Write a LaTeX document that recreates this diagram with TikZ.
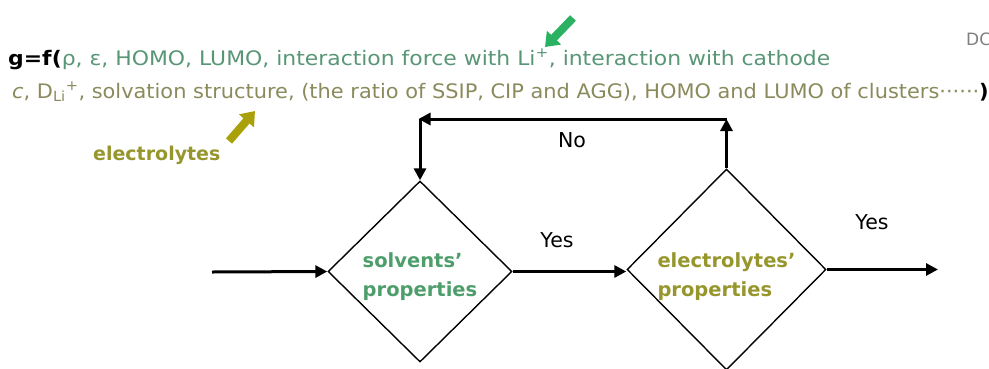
\documentclass[tikz,border=0pt]{standalone}
\usepackage{fontspec}
\setmainfont{DejaVu Sans}
\newfontfamily\wideA[FakeStretch=1.095]{DejaVu Sans}
\newfontfamily\wideB[FakeStretch=1.045]{DejaVu Sans}
\usetikzlibrary{shapes.geometric,arrows.meta}
\definecolor{solvgreen}{RGB}{88,150,118}
\definecolor{elecgray}{RGB}{138,138,92}
\definecolor{elecolive}{RGB}{150,150,45}
\definecolor{solvdia}{RGB}{78,158,108}
\definecolor{arrgreen}{RGB}{42,178,98}
\definecolor{arrolive}{RGB}{170,160,10}
\tikzset{
  dia/.style={shape=diamond, draw, line width=1.4pt, inner sep=0pt},
  diatext/.style={align=left, inner sep=0pt, font=\bfseries\fontsize{19.5}{29}\selectfont},
  flow/.style={line width=3pt, -{Triangle[length=12pt,width=12pt]}},
  lbl/.style={font=\fontsize{20.5}{24}\selectfont, inner sep=0pt},
  txt/.style={inner sep=0pt, anchor=base west},
  block/.style={line width=8pt, -{Triangle[length=13pt,width=19pt]}},
}
\begin{document}
\begin{tikzpicture}[x=1pt,y=-1pt]
\useasboundingbox (0,0) rectangle (989,368);
% formula text
\node[txt, font=\wideA\fontsize{20}{24}\selectfont] (l1) at (8,65) {\textbf{g=f(}\textcolor{solvgreen}{ρ, ε, HOMO, LUMO, interaction force with Li\textsuperscript{+}, interaction with cathode}};
\node[txt, font=\wideB\fontsize{20}{24}\selectfont] (l2) at (12,98) {\textcolor{elecgray}{\textit{c}, D\textsubscript{Li}\textsuperscript{+}, solvation structure, (the ratio of SSIP, CIP and AGG), HOMO and LUMO of clusters······}\textbf{)}};
\node[txt, font=\fontsize{17}{20}\selectfont, text=gray] (dc) at (966,45) {DC};
\node[txt, font=\bfseries\fontsize{19}{23}\selectfont, text=elecolive] (el) at (93,160) {electrolytes};
% pointer arrows
\coordinate (ga1) at (573,18);
\coordinate (ga2) at (545,47);
\draw[block, arrgreen] (ga1) -- (ga2);
\coordinate (oa1) at (229,141);
\coordinate (oa2) at (255,111);
\draw[block, arrolive] (oa1) -- (oa2);
% diamonds
\node[dia, minimum width=184pt, minimum height=181pt] (d1) at (420,271.5) {};
\node[diatext, text=solvdia] (d1t) at ([yshift=-5pt]d1.center) {solvents'\\properties};
\node[dia, minimum width=199pt, minimum height=201pt] (d2) at (726.5,269.5) {};
\node[diatext, text=elecolive] (d2t) at ([yshift=-7pt]d2.center) {electrolytes'\\properties};
% connectors
\coordinate (in) at (212,272);
\coordinate (out) at (938,266);
\coordinate (top) at (600,119);
\draw[flow] (in) -- (d1.west);
\draw[flow] (d1.east) -- (d1.east -| d2.west);
\draw[flow] (d2.east) -- (d2.east -| out);
\draw[flow] (d2.north) -- (d2.north |- top);
\draw[flow] (d2.north |- top) -- ([xshift=-1.5pt]d1.north |- top);
\draw[flow] (d1.north |- top) -- (d1.north);
% labels
\node[lbl] (yes1) at (557,240) {Yes};
\node[lbl] (yes2) at (872,222) {Yes};
\node[lbl] (no) at (572,140) {No};
\end{tikzpicture}
\end{document}
